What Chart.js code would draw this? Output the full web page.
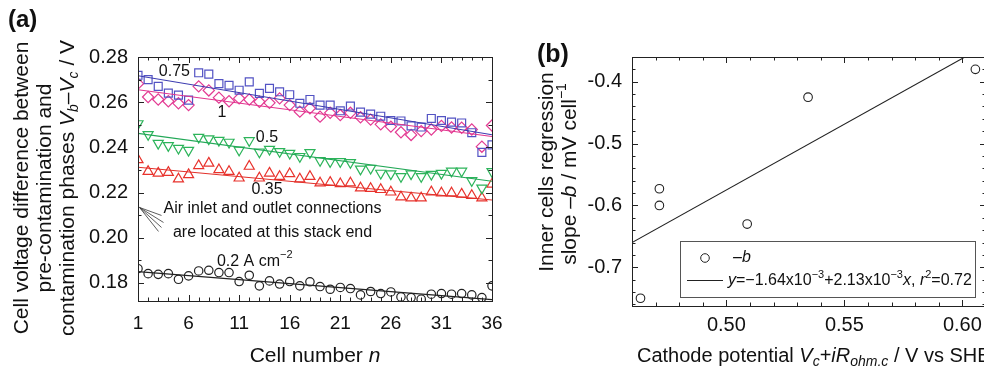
<!DOCTYPE html>
<html>
<head>
<meta charset="utf-8">
<script src="https://cdn.jsdelivr.net/npm/chart.js@4.4.1/dist/chart.umd.min.js"></script>
<style>
  body { margin: 0; background: #fff; overflow: hidden; width: 984px; height: 366px; position: relative; }
  canvas { position: absolute; top: 0; }
  #chartA { left: 0; }
  #chartB { left: 520px; }
</style>
</head>
<body>
<canvas id="chartA" width="520" height="366"></canvas>
<canvas id="chartB" width="480" height="366"></canvas>
<script>
const FONT = '"Liberation Sans", Arial, sans-serif';

// ---- panel (a): cell voltage difference vs cell number ----
const cellN = [1,2,3,4,5,6,7,8,9,10,11,12,13,14,15,16,17,18,19,20,21,22,23,24,25,26,27,28,29,30,31,32,33,34,35,36];
const dV075 = [0.2719,0.2700,0.2670,0.2640,0.2631,0.2609,0.2730,0.2724,0.2682,0.2675,0.2653,0.2690,
               0.2639,0.2661,0.2646,0.2633,0.2595,0.2612,0.2587,0.2587,0.2562,0.2583,0.2556,0.2547,
               0.2538,0.2519,0.2517,0.2495,0.2490,0.2528,0.2519,0.2512,0.2508,0.2465,0.2378,0.2411];
const dV1   = [0.2682,0.2623,0.2612,0.2604,0.2595,0.2587,0.2670,0.2652,0.2620,0.2604,0.2617,0.2612,
               0.2602,0.2597,0.2617,0.2587,0.2558,0.2573,0.2536,0.2553,0.2543,0.2553,0.2533,0.2523,
               0.2502,0.2492,0.2467,0.2455,0.2472,0.2479,0.2495,0.2488,0.2487,0.2479,0.2403,0.2497];
const dV05  = [0.2505,0.2457,0.2418,0.2408,0.2396,0.2387,0.2445,0.2438,0.2431,0.2423,0.2388,0.2430,
               0.2380,0.2392,0.2382,0.2374,0.2360,0.2377,0.2342,0.2337,0.2337,0.2333,0.2304,0.2308,
               0.2286,0.2283,0.2271,0.2283,0.2271,0.2281,0.2285,0.2295,0.2295,0.2253,0.2220,0.2293];
const dV035 = [0.2345,0.2293,0.2286,0.2289,0.2260,0.2279,0.2319,0.2330,0.2301,0.2293,0.2264,0.2316,
               0.2264,0.2286,0.2271,0.2283,0.2260,0.2271,0.2242,0.2245,0.2239,0.2242,0.2220,0.2218,
               0.2213,0.2202,0.2180,0.2176,0.2176,0.2203,0.2198,0.2198,0.2193,0.2187,0.2176,0.2237];
const dV02  = [0.1863,0.1841,0.1838,0.1841,0.1816,0.1831,0.1853,0.1856,0.1846,0.1846,0.1806,0.1834,
               0.1787,0.1809,0.1795,0.1806,0.1787,0.1805,0.1784,0.1772,0.1780,0.1775,0.1747,0.1762,
               0.1753,0.1760,0.1738,0.1735,0.1728,0.1750,0.1753,0.1750,0.1753,0.1747,0.1735,0.1787];
// regression lines, end values
const fitN   = [1, 36];
const fit075 = [0.2717, 0.2456];
const fit1   = [0.2655, 0.2448];
const fit05  = [0.2462, 0.2250];
const fit035 = [0.2312, 0.2167];
const fit02  = [0.1850, 0.1726];
const xTicksA = [1, 6, 11, 16, 21, 26, 31, 36];
const yTicksA = [0.18, 0.20, 0.22, 0.24, 0.26, 0.28];

// ---- panel (b): inner cells slope vs cathode potential ----
const cathodeE = [0.4636, 0.4716, 0.4716, 0.5088, 0.5346, 0.6055];
const slopeB   = [-0.750, -0.573, -0.600, -0.630, -0.425, -0.380];
const fitE = [0.46, 0.61];
const fitB = [-0.660, -0.341];
const xTicksB = [0.50, 0.55, 0.60];
const yTicksB = [-0.7, -0.6, -0.5, -0.4];

const pts = (xs, ys) => xs.map((x, i) => ({ x: x, y: ys[i] }));

// rich text: parts are [text, flags]; flags: i italic, b bold, _ subscript, ^ superscript
function partFont(f, size) {
  const s = (f.includes('_') || f.includes('^')) ? Math.round(size * 0.68) : size;
  return (f.includes('i') ? 'italic ' : '') + (f.includes('b') ? 'bold ' : '') + s + 'px ' + FONT;
}
function drawRich(ctx, parts, x, y, size, align) {
  let w = 0;
  parts.forEach(p => { ctx.font = partFont(p[1] || '', size); w += ctx.measureText(p[0]).width; });
  let cx = align === 'left' ? x : x - w / 2;
  ctx.textAlign = 'left';
  ctx.textBaseline = 'middle';
  parts.forEach(p => {
    const f = p[1] || '';
    ctx.font = partFont(f, size);
    const dy = f.includes('_') ? size * 0.3 : f.includes('^') ? -size * 0.38 : 0;
    ctx.fillText(p[0], cx, y + dy);
    cx += ctx.measureText(p[0]).width;
  });
}
function drawRot(ctx, parts, x, y, size) {
  ctx.save();
  ctx.translate(x, y);
  ctx.rotate(-Math.PI / 2);
  drawRich(ctx, parts, 0, 0, size);
  ctx.restore();
}

// box around the plot with small inward ticks on all four sides
const frame = {
  id: 'frame',
  afterDatasetsDraw(chart, args, o) {
    const { ctx, chartArea: a, scales: { x, y } } = chart;
    ctx.save();
    ctx.strokeStyle = '#222';
    ctx.lineWidth = 1;
    ctx.strokeRect(Math.round(a.left) + 0.5, Math.round(a.top) + 0.5, Math.round(a.width), Math.round(a.height));
    ctx.beginPath();
    for (let k = Math.ceil(x.min / o.xStep - 1e-6); k * o.xStep <= x.max + 1e-9; k++) {
      const v = k * o.xStep;
      const px = Math.round(x.getPixelForValue(v)) + 0.5;
      const len = o.xMajor.some(m => Math.abs(m - v) < 1e-6) ? 6 : 3.5;
      ctx.moveTo(px, a.bottom); ctx.lineTo(px, a.bottom - len);
      ctx.moveTo(px, a.top); ctx.lineTo(px, a.top + len);
    }
    for (let k = Math.ceil(y.min / o.yStep - 1e-6); k * o.yStep <= y.max + 1e-9; k++) {
      const v = k * o.yStep;
      const py = Math.round(y.getPixelForValue(v)) + 0.5;
      const len = o.yMajor.some(m => Math.abs(m - v) < 1e-6) ? 6 : 3.5;
      ctx.moveTo(a.left, py); ctx.lineTo(a.left + len, py);
      ctx.moveTo(a.right, py); ctx.lineTo(a.right - len, py);
    }
    ctx.stroke();
    ctx.restore();
  }
};

const textA = {
  id: 'textA',
  afterDraw(chart) {
    const { ctx, scales: { x, y } } = chart;
    const X = v => x.getPixelForValue(v), Y = v => y.getPixelForValue(v);
    ctx.save();
    ctx.fillStyle = '#111';
    drawRich(ctx, [['(a)', 'b']], 8, 20, 24, 'left');
    drawRich(ctx, [['Cell number '], ['n', 'i']], (chart.chartArea.left + chart.chartArea.right) / 2, 356, 21);
    const cy = 188;
    drawRot(ctx, [['Cell voltage difference between']], 22, cy, 21);
    drawRot(ctx, [['pre-contamination and']], 45, cy, 21);
    drawRot(ctx, [['contamination phases '], ['V', 'i'], ['b', 'i_'], ['\u2013'], ['V', 'i'], ['c', 'i_'], [' / V']], 68, cy, 21);
    drawRich(ctx, [['0.75']], X(4.6), Y(0.2737), 16);
    drawRich(ctx, [['1']], X(9.3), Y(0.2556), 16);
    drawRich(ctx, [['0.5']], X(13.75), Y(0.2442), 16);
    drawRich(ctx, [['0.35']], X(13.75), Y(0.2213), 16);
    drawRich(ctx, [['Air inlet and outlet connections']], X(14.3), Y(0.2129), 16);
    drawRich(ctx, [['are located at this stack end']], X(14.3), Y(0.2023), 16);
    drawRich(ctx, [['0.2 A cm'], ['\u22122', '^']], X(8.8), Y(0.1896), 16, 'left');
    // pointer lines to the stack end
    const tx = X(1) + 1.5, ty = Y(0.2134);
    ctx.strokeStyle = '#333';
    ctx.lineWidth = 0.8;
    ctx.beginPath();
    [[22, 8], [24, 15], [22, 20], [19, 24]].forEach(d => { ctx.moveTo(tx, ty); ctx.lineTo(tx + d[0], ty + d[1]); });
    ctx.stroke();
    ctx.restore();
  }
};

const textB = {
  id: 'textB',
  afterDraw(chart) {
    const { ctx } = chart;
    ctx.save();
    ctx.fillStyle = '#111';
    drawRich(ctx, [['(b)', 'b']], 17, 55, 25, 'left');
    drawRich(ctx, [['Cathode potential '], ['V', 'i'], ['c', 'i_'], ['+'], ['iR', 'i'], ['ohm,c', 'i_'], [' / V vs SHE']], 117, 356, 20, 'left');
    drawRot(ctx, [['Inner cells regression']], 27, 172, 21);
    drawRot(ctx, [['slope '], ['\u2013b', 'i'], [' / mV cell'], ['\u22121', '^']], 50, 174, 21);
    // legend box
    ctx.strokeStyle = '#555';
    ctx.lineWidth = 1;
    ctx.strokeRect(160.5, 241.5, 295, 56);
    ctx.strokeStyle = '#222';
    ctx.beginPath();
    ctx.arc(185, 258, 4.3, 0, Math.PI * 2);
    ctx.stroke();
    ctx.beginPath();
    ctx.moveTo(167, 280.5); ctx.lineTo(203, 280.5);
    ctx.stroke();
    drawRich(ctx, [['\u2013b', 'i']], 213, 258, 16, 'left');
    drawRich(ctx, [['y', 'i'], ['=\u22121.64x10'], ['\u22123', '^'], ['+2.13x10'], ['\u22123', '^'], ['x', 'i'], [', '], ['r', 'i'], ['2', '^'], ['=0.72']], 208, 281, 16, 'left');
    ctx.restore();
  }
};

const tickFont = s => ({ family: FONT, size: s });

function series(ys, color, style, r, rot) {
  return {
    data: pts(cellN, ys), showLine: false, pointStyle: style, pointRadius: r, pointRotation: rot || 0,
    pointBackgroundColor: 'rgba(0,0,0,0)', pointBorderColor: color, pointBorderWidth: 1.2
  };
}
function fit(ys, color) {
  return { data: pts(fitN, ys), showLine: true, pointRadius: 0, borderColor: color, borderWidth: 1.1 };
}

new Chart(document.getElementById('chartA'), {
  type: 'scatter',
  data: {
    datasets: [
      fit(fit075, '#3b3bb0'), fit(fit1, '#e2358f'), fit(fit05, '#22a857'), fit(fit035, '#e2302a'), fit(fit02, '#222'),
      series(dV075, '#5353c4', 'rect', 5.6),
      series(dV1, '#e33b93', 'rectRot', 5.6),
      series(dV05, '#2cb45a', 'triangle', 5.8, 180),
      series(dV035, '#e8322c', 'triangle', 5.8),
      series(dV02, '#222', 'circle', 4.2)
    ]
  },
  options: {
    responsive: false,
    animation: false,
    layout: { padding: { left: 0, top: 57, right: 28, bottom: 0 } },
    plugins: {
      legend: { display: false },
      tooltip: { enabled: false },
      frame: { xStep: 1, yStep: 0.01, xMajor: xTicksA, yMajor: yTicksA }
    },
    scales: {
      x: {
        type: 'linear', min: 1, max: 36,
        afterBuildTicks: s => { s.ticks = xTicksA.map(v => ({ value: v })); },
        afterFit: s => { s.height = 65; },
        grid: { display: false, drawTicks: false }, border: { display: false },
        ticks: { font: tickFont(19), color: '#111', padding: 11, maxRotation: 0, autoSkip: false }
      },
      y: {
        type: 'linear', min: 0.172, max: 0.28,
        afterBuildTicks: s => { s.ticks = yTicksA.map(v => ({ value: v })); },
        afterFit: s => { s.width = 138; },
        grid: { display: false, drawTicks: false }, border: { display: false },
        ticks: { font: tickFont(20), color: '#111', padding: 10, callback: v => v.toFixed(2) }
      }
    }
  },
  plugins: [frame, textA]
});

new Chart(document.getElementById('chartB'), {
  type: 'scatter',
  data: {
    datasets: [
      { data: pts(fitE, fitB), showLine: true, pointRadius: 0, borderColor: '#222', borderWidth: 1.1 },
      { data: pts(cathodeE, slopeB), showLine: false, pointStyle: 'circle', pointRadius: 4.3,
        pointBackgroundColor: 'rgba(0,0,0,0)', pointBorderColor: '#222', pointBorderWidth: 1.1 }
    ]
  },
  options: {
    responsive: false,
    animation: false,
    layout: { padding: { left: 0, top: 57, right: 14, bottom: 0 } },
    plugins: {
      legend: { display: false },
      tooltip: { enabled: false },
      frame: { xStep: 0.01, yStep: 0.02, xMajor: xTicksB, yMajor: yTicksB }
    },
    scales: {
      x: {
        type: 'linear', min: 0.46, max: 0.61,
        afterBuildTicks: s => { s.ticks = xTicksB.map(v => ({ value: v })); },
        afterFit: s => { s.height = 60; },
        grid: { display: false, drawTicks: false }, border: { display: false },
        ticks: { font: tickFont(20), color: '#111', padding: 7, maxRotation: 0, autoSkip: false, callback: v => v.toFixed(2) }
      },
      y: {
        type: 'linear', min: -0.7625, max: -0.36,
        afterBuildTicks: s => { s.ticks = yTicksB.map(v => ({ value: v })); },
        afterFit: s => { s.width = 112; },
        grid: { display: false, drawTicks: false }, border: { display: false },
        ticks: { font: tickFont(20), color: '#111', padding: 10, callback: v => v.toFixed(1) }
      }
    }
  },
  plugins: [frame, textB]
});
</script>
</body>
</html>
